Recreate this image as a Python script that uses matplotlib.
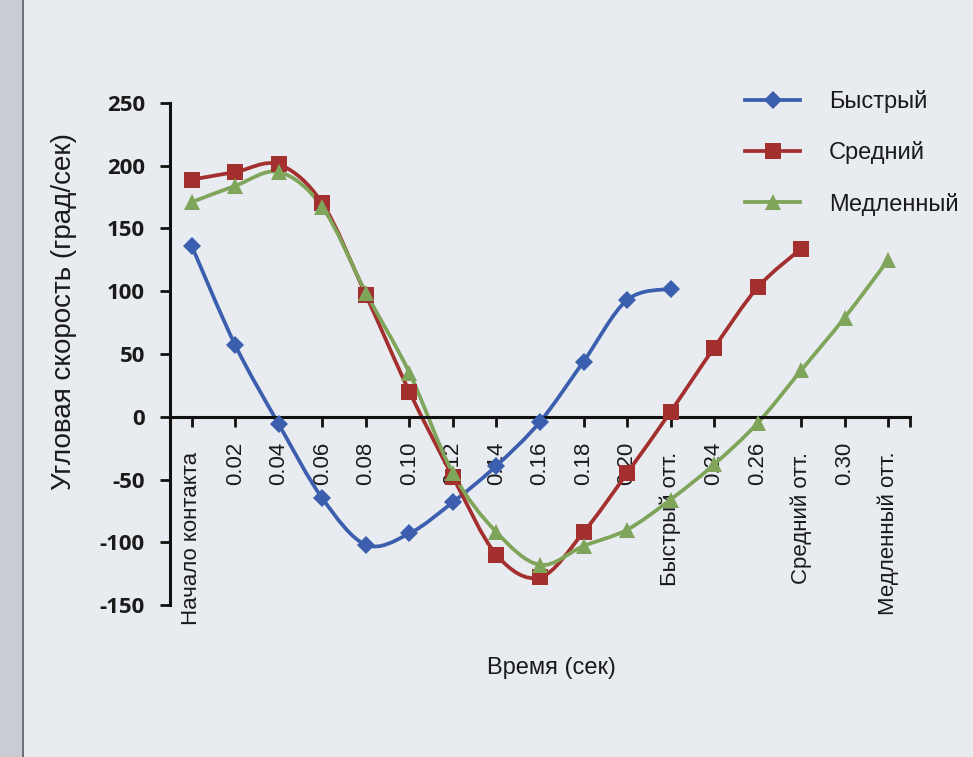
import matplotlib
matplotlib.use("Agg")
import matplotlib.pyplot as plt
from matplotlib.path import Path
from matplotlib.patches import PathPatch, Rectangle
from matplotlib.lines import Line2D
from matplotlib.transforms import offset_copy

# ---- data ----
categories = ["Начало контакта", "0.02", "0.04", "0.06", "0.08", "0.10", "0.12",
              "0.14", "0.16", "0.18", "0.20", "Быстрый отт.", "0.24", "0.26",
              "Средний отт.", "0.30", "Медленный отт."]
fast = [136, 57, -6, -65, -102, -93, -68, -39, -4, 44, 93, 102]
medium = [189, 195, 201, 170, 97, 20, -48, -110, -128, -92, -45, 4, 55, 103, 134]
slow = [171, 184, 195, 167, 99, 35, -45, -92, -118, -103, -90, -66, -38, -5, 37, 79, 125]
series_names = ["Быстрый", "Средний", "Медленный"]
yticks = [-150, -100, -50, 0, 50, 100, 150, 200, 250]

colors = ["#3b5fae", "#a3302e", "#7ea55a"]
markers = ["D", "s", "^"]
msizes = [9, 12, 12]

BG = "#e8ebef"
TXT = "#1a1a1a"
FONT = ["Liberation Sans", "DejaVu Sans"]
plt.rcParams["font.family"] = FONT

fig = plt.figure(figsize=(9.73, 7.57), dpi=100, facecolor=BG)
# page edge on the left
fig.patches.append(Rectangle((0, 0), 22 / 973, 1, transform=fig.transFigure,
                             facecolor="#c9cdd3", edgecolor="none", zorder=0))
fig.lines.append(Line2D([23 / 973, 23 / 973], [0, 1], transform=fig.transFigure,
                        color="#555a62", lw=1.2))

ax = fig.add_axes([170 / 973, 1 - 605 / 757, 740 / 973, 502 / 757])
ax.set_facecolor(BG)

for s in ["top", "right"]:
    ax.spines[s].set_visible(False)
ax.spines["bottom"].set_position(("data", 0))
for s in ["bottom", "left"]:
    ax.spines[s].set_color("#111111")
    ax.spines[s].set_linewidth(2.2)


def smooth_path(xs, ys):
    pts = list(zip(xs, ys))
    verts = [pts[0]]
    codes = [Path.MOVETO]
    n = len(pts)
    for i in range(n - 1):
        p0 = pts[i - 1] if i > 0 else pts[i]
        p1 = pts[i]
        p2 = pts[i + 1]
        p3 = pts[i + 2] if i + 2 < n else pts[i + 1]
        c1 = (p1[0] + (p2[0] - p0[0]) / 6, p1[1] + (p2[1] - p0[1]) / 6)
        c2 = (p2[0] - (p3[0] - p1[0]) / 6, p2[1] - (p3[1] - p1[1]) / 6)
        verts += [c1, c2, p2]
        codes += [Path.CURVE4] * 3
    return Path(verts, codes)


handles = []
for vals, c, m, ms, name in zip([fast, medium, slow], colors, markers, msizes, series_names):
    xs = list(range(len(vals)))
    patch = PathPatch(smooth_path(xs, vals), facecolor="none", edgecolor=c, lw=2.7,
                      capstyle="round", joinstyle="round", zorder=2)
    ax.add_patch(patch)
    ax.plot(xs, vals, linestyle="none", marker=m, color=c, markersize=ms, zorder=3,
            markeredgewidth=0)
    handles.append(Line2D([], [], color=c, lw=2.7, marker=m, markersize=ms,
                          markeredgewidth=0, label=name))

ax.set_xlim(-0.5, len(categories) - 0.5)
ax.set_ylim(-150, 250)
ax.set_xticks(range(len(categories)))
ax.set_xticks([len(categories) - 0.5], minor=True)
ax.set_xticklabels(categories, rotation=90, fontsize=16, color=TXT, va="top")
ax.set_yticks(yticks)
ax.set_yticklabels([str(v) for v in yticks], fontsize=16, fontweight="bold",
                   color=TXT, family=["Open Sans", "DejaVu Sans"])
ax.tick_params(axis="x", which="both", direction="out", length=7, width=2,
               color="#111111", pad=11)
ax.tick_params(axis="y", direction="out", length=7, width=2, color="#111111", pad=11)

# longer word labels sit a little lower, as in the source
for lab in ax.get_xticklabels():
    if len(lab.get_text()) > 5:
        lab.set_transform(offset_copy(lab.get_transform(), fig=fig, x=0, y=-10,
                                      units="dots"))

fig.text(64 / 973, 1 - 311 / 757, "Угловая скорость (град/сек)", rotation=90,
         ha="center", va="center", fontsize=20, color=TXT)
fig.text(551 / 973, 1 - 668 / 757, "Время (сек)", ha="center", va="center",
         fontsize=17, color=TXT)

fig.legend(handles=handles, loc="upper left", bbox_to_anchor=(745 / 973, 1 - 90 / 757),
           frameon=False, fontsize=17, handlelength=2.35, handletextpad=1.2,
           labelspacing=1.2, borderpad=0, borderaxespad=0, labelcolor=TXT)

fig.savefig("out.png", dpi=100, facecolor=BG)
